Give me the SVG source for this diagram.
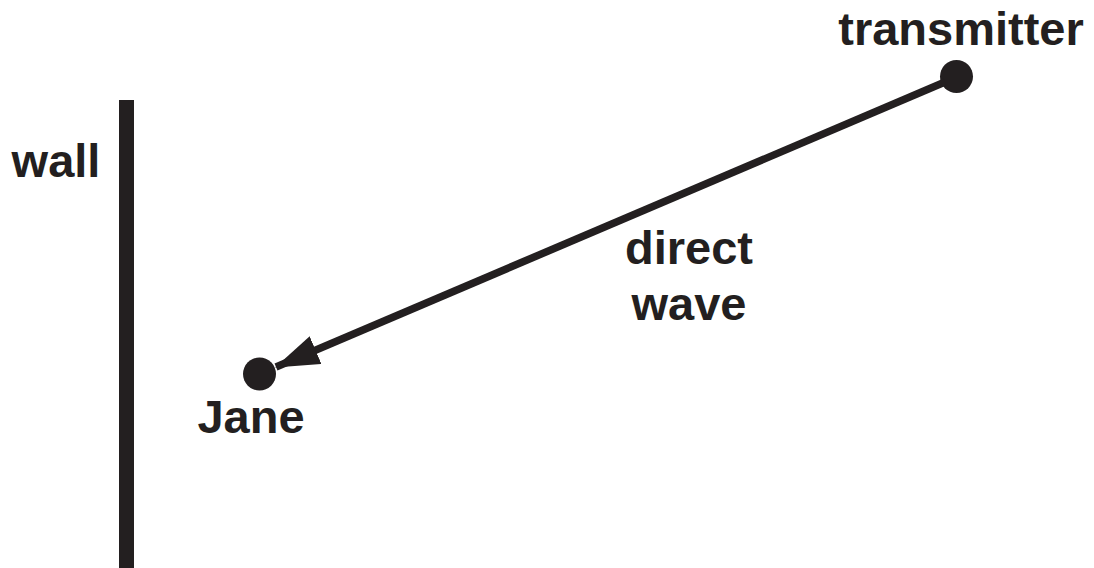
<svg xmlns="http://www.w3.org/2000/svg" width="1094" height="568" viewBox="0 0 1094 568">
<style>
.lbl{font-family:"Liberation Sans",Arial,sans-serif;font-weight:bold;font-size:47px;fill:#231f20;text-anchor:middle}
.dot{fill:#231f20}
</style>
<defs>
<marker id="ah" markerUnits="userSpaceOnUse" viewBox="0 0 44 30" refX="43" refY="15" markerWidth="44" markerHeight="30" orient="auto">
<path d="M0,0 L44,15 L0,30 Z" fill="#231f20"/>
</marker>
</defs>
<rect width="1094" height="568" fill="#fff"/>
<g id="wall">
<rect x="119" y="100" width="15" height="468" fill="#231f20"/>
<text class="lbl" x="56" y="177">wall</text>
</g>
<g id="transmitter">
<circle class="dot" cx="956.5" cy="76.5" r="16.5"/>
<text class="lbl" x="961" y="45">transmitter</text>
</g>
<g id="jane">
<circle class="dot" cx="259.5" cy="374" r="16.5"/>
<text class="lbl" x="251" y="433">Jane</text>
</g>
<g id="connectors">
<line x1="945" y1="82" x2="276" y2="367" stroke="#231f20" stroke-width="7.5" marker-end="url(#ah)"/>
<text class="lbl" x="689" y="264">direct</text>
<text class="lbl" x="689" y="320">wave</text>
</g>
</svg>
